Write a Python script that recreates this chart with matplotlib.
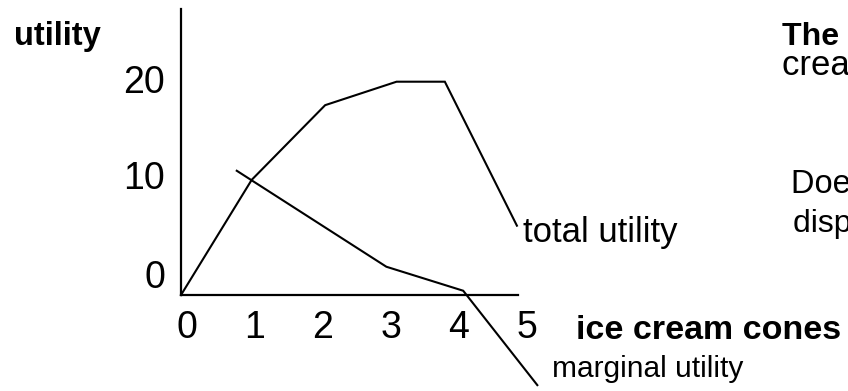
import matplotlib
matplotlib.use("Agg")
import matplotlib.pyplot as plt
from matplotlib import font_manager
from matplotlib.transforms import ScaledTranslation

# --- data -------------------------------------------------------------
cones_total = [0, 1.04, 2.12, 3.17, 3.88, 4.94]
total_utility = [0, 10.8, 17.8, 20, 20, 6.5]

cones_marginal = [0.82, 3.02, 4.15, 5.24]
marginal_utility = [11.65, 2.65, 0.4, -8.45]

x_ticks = [0, 1, 2, 3, 4, 5]
y_ticks = [0, 10, 20]

# --- fonts ------------------------------------------------------------
available = {f.name for f in font_manager.fontManager.ttflist}
HAS_NARROW = "Liberation Sans Narrow" in available
NARROW = "Liberation Sans Narrow" if HAS_NARROW else "Liberation Sans"
WIDE = "Liberation Sans"


def nsize(narrow_pt, wide_pt):
    """point size for the condensed face, or a width-equivalent regular size"""
    return narrow_pt if HAS_NARROW else wide_pt


W, H = 848, 391
fig = plt.figure(figsize=(W / 100, H / 100), dpi=100)
fig.patch.set_facecolor("white")


def px(x, y):
    """figure fraction from pixel position (origin top-left)"""
    return x / W, 1 - y / H


# axes: origin at (181, 295) px, 68 px per cone, 10.665 px per util
x0, y0 = 181, 295
sx, sy = 68.0, 10.665
right_px, top_px = 560, 9.3
ax = fig.add_axes([x0 / W, 1 - y0 / H, (right_px - x0) / W, (y0 - top_px) / H])
ax.set_xlim(0, (right_px - x0) / sx)
ax.set_ylim(0, (y0 - top_px) / sy)
ax.patch.set_alpha(0)

for side in ("top", "right"):
    ax.spines[side].set_visible(False)
for side in ("left", "bottom"):
    ax.spines[side].set_linewidth(1.6)
    ax.spines[side].set_color("black")
ax.spines["bottom"].set_bounds(0, (517.7 - x0) / sx)

ax.plot(cones_total, total_utility, color="black", lw=1.5, clip_on=False,
        solid_joinstyle="miter")
ax.plot(cones_marginal, marginal_utility, color="black", lw=1.5, clip_on=False,
        solid_joinstyle="miter")

tick_pt = nsize(30, 27)
ax.set_xticks(x_ticks)
ax.set_xticklabels([str(v) for v in x_ticks])
ax.set_yticks(y_ticks)
ax.set_yticklabels([str(v) for v in y_ticks])
ax.tick_params(axis="both", length=0, labelsize=tick_pt, labelcolor="black")
ax.tick_params(axis="x", pad=10.5)
ax.tick_params(axis="y", pad=11.5)
for lab in ax.get_xticklabels() + ax.get_yticklabels():
    lab.set_fontfamily(NARROW)

# nudge the tick labels as set on the slide
for lab in ax.xaxis.get_majorticklabels():
    lab.set_transform(lab.get_transform() + ScaledTranslation(5.5 / 100, 0, fig.dpi_scale_trans))
for lab, dy in zip(ax.yaxis.get_majorticklabels(), [21, 13, 3]):
    lab.set_transform(lab.get_transform() + ScaledTranslation(0, dy / 100, fig.dpi_scale_trans))

# --- labels -----------------------------------------------------------
fig.text(*px(14, 45), "utility", family=WIDE, weight="bold", fontsize=23.5,
         va="baseline", ha="left")
fig.text(*px(575.7, 339.3), "ice cream cones", family=NARROW, weight="bold",
         fontsize=nsize(30, 24.5), va="baseline", ha="left")
fig.text(*px(523, 241.7), "total utility", family=NARROW, fontsize=nsize(29.5, 25),
         va="baseline", ha="left")
fig.text(*px(551.7, 376.7), "marginal utility", family=NARROW, fontsize=nsize(25, 21.5),
         va="baseline", ha="left")

# side note (runs off the right edge of the slide)
fig.text(*px(781.7, 45), "The graph", family=WIDE, weight="bold", fontsize=23,
         va="baseline", ha="left")
fig.text(*px(781.7, 75), "cream cones.", family=NARROW, fontsize=nsize(30, 25),
         va="baseline", ha="left")
fig.text(*px(790.7, 192.7), "Does the graph", family=NARROW, fontsize=nsize(27.5, 23.5),
         va="baseline", ha="left")
fig.text(*px(792.7, 231.7), "display diminishing marginal utility?", family=NARROW,
         fontsize=nsize(27.5, 23), va="baseline", ha="left")

fig.savefig("out.png", dpi=100, facecolor="white")
